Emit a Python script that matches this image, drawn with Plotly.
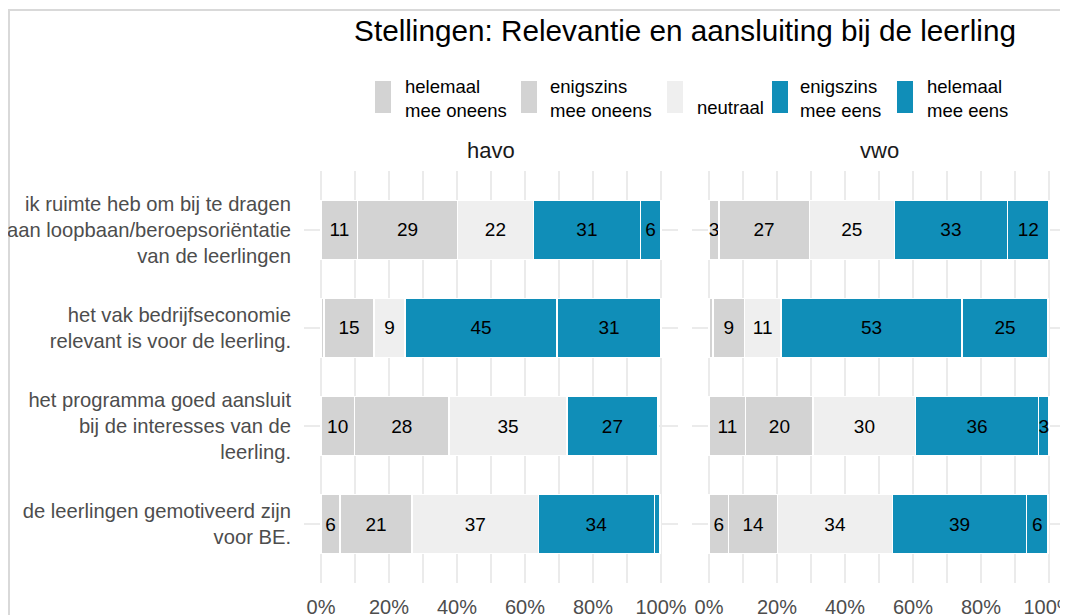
import plotly.graph_objects as go

# ---------------- data ----------------
statements = [
    "ik ruimte heb om bij te dragen<br>aan loopbaan/beroepsoriëntatie<br>van de leerlingen",
    "het vak bedrijfseconomie<br>relevant is voor de leerling.",
    "het programma goed aansluit<br>bij de interesses van de<br>leerling.",
    "de leerlingen gemotiveerd zijn<br>voor BE.",
]
levels = [
    "helemaal<br>mee oneens",
    "enigszins<br>mee oneens",
    "<br>neutraal",
    "enigszins<br>mee eens",
    "helemaal<br>mee eens",
]
level_colors = ["#D3D3D3", "#D3D3D3", "#EFEFEF", "#108EB8", "#108EB8"]
panels = ["havo", "vwo"]

havo_helemaal_oneens = [10.8, 0.9, 9.8, 5.6]
havo_enigszins_oneens = [29.3, 14.7, 27.9, 21.2]
havo_neutraal = [22.4, 9.1, 34.6, 37.1]
havo_enigszins_eens = [31.4, 44.7, 26.8, 34.2]
havo_helemaal_eens = [6.1, 30.6, 0.0, 1.6]

vwo_helemaal_oneens = [2.9, 1.2, 10.8, 5.8]
vwo_enigszins_oneens = [26.6, 9.2, 19.8, 14.4]
vwo_neutraal = [25.0, 10.8, 30.2, 33.8]
vwo_enigszins_eens = [33.3, 53.2, 36.1, 39.4]
vwo_helemaal_eens = [12.2, 25.3, 3.1, 6.3]

x_tick_values = [0, 20, 40, 60, 80, 100]
x_tick_labels = ["0%", "20%", "40%", "60%", "80%", "100%"]
x_minor_values = [10, 30, 50, 70, 90]

panel_data = {
    "havo": [havo_helemaal_oneens, havo_enigszins_oneens, havo_neutraal,
             havo_enigszins_eens, havo_helemaal_eens],
    "vwo": [vwo_helemaal_oneens, vwo_enigszins_oneens, vwo_neutraal,
            vwo_enigszins_eens, vwo_helemaal_eens],
}

# ---------------- figure ----------------
# the page body has an 8px margin, so the figure is offset by 8px
OFF = 8
W, H = 1068 - OFF, 615 - OFF
FONT = "Arial, Liberation Sans, sans-serif"


def px_x(p):
    return (p - OFF) / W


def px_y(p):
    return 1 - (p - OFF) / H


fig = go.Figure()

axis_names = {"havo": ("x", "y"), "vwo": ("x2", "y")}
for panel in panels:
    xa, ya = axis_names[panel]
    for lvl, col, vals in zip(levels, level_colors, panel_data[panel]):
        labels = [str(round(v)) if v >= 2.5 else "" for v in vals]
        fig.add_trace(go.Bar(
            x=vals, y=statements, orientation="h",
            name=lvl.replace("<br>", " ").strip(),
            marker=dict(color=col, line=dict(color="white", width=1.5)),
            width=0.6,
            text=labels, textposition="inside", insidetextanchor="middle",
            textangle=0,
            textfont=dict(family=FONT, size=19, color="black"),
            insidetextfont=dict(family=FONT, size=19, color="black"),
            xaxis=xa, yaxis=ya, showlegend=False,
            hovertemplate="%{y}: %{x}<extra></extra>",
        ))

grid_col = "#EBEBEB"
xaxis_common = dict(
    range=[-5, 105], tickmode="array", tickvals=x_tick_values, ticktext=x_tick_labels,
    showgrid=True, gridcolor=grid_col, gridwidth=2,
    minor=dict(tickvals=x_minor_values, showgrid=True, gridcolor=grid_col, gridwidth=2),
    zeroline=False, showline=False, ticks="",
    tickfont=dict(family=FONT, size=20, color="#4D4D4D"),
    ticklabelstandoff=10, ticklabeloverflow="allow",
    fixedrange=True, automargin=False,
)

fig.update_layout(
    width=W, height=H,
    margin=dict(l=0, r=0, t=0, b=0),
    paper_bgcolor="white", plot_bgcolor="white",
    barmode="stack", bargap=0.4,
    showlegend=False,
    uniformtext=dict(minsize=19, mode="show"),
    xaxis=dict(domain=[px_x(304), px_x(678)], anchor="y", **xaxis_common),
    xaxis2=dict(domain=[px_x(692), px_x(1066)], anchor="y", **xaxis_common),
    yaxis=dict(
        domain=[px_y(583), px_y(171)],
        categoryorder="array", categoryarray=statements,
        range=[3.6, -0.6],
        showgrid=True, gridcolor=grid_col, gridwidth=2,
        zeroline=False, showline=False, ticks="",
        tickfont=dict(family=FONT, size=20.2, color="#4D4D4D"),
        ticklabelstandoff=12, automargin=False, fixedrange=True,
    ),
    title=dict(
        text="Stellingen: Relevantie en aansluiting bij de leerling",
        x=px_x(685), xanchor="center", y=px_y(31), yanchor="middle",
        xref="paper", yref="paper",
        font=dict(family=FONT, size=29.7, color="black"),
    ),
)

# facet strip labels
for panel, cx in zip(panels, [491, 879]):
    fig.add_annotation(
        text=panel, x=px_x(cx), y=px_y(150), xref="paper", yref="paper",
        xanchor="center", yanchor="middle", showarrow=False,
        font=dict(family=FONT, size=22, color="#1A1A1A"),
    )

# legend (drawn manually: tall keys and two-line labels)
key_left = [375, 521, 667, 772, 897]
text_left = [403, 548, 695, 798, 925]
for lvl, col, kx, tx in zip(levels, level_colors, key_left, text_left):
    fig.add_shape(
        type="rect", xref="paper", yref="paper",
        x0=px_x(kx), x1=px_x(kx + 16), y0=px_y(113), y1=px_y(81),
        fillcolor=col, line=dict(width=0),
    )
    if lvl.startswith("<br>"):
        fig.add_annotation(
            text=lvl.replace("<br>", ""), x=px_x(tx), y=px_y(108),
            xref="paper", yref="paper", xanchor="left", yanchor="middle",
            showarrow=False, align="left",
            font=dict(family=FONT, size=18.5, color="black"),
        )
    else:
        fig.add_annotation(
            text=lvl, x=px_x(tx), y=px_y(98),
            xref="paper", yref="paper", xanchor="left", yanchor="middle",
            showarrow=False, align="left",
            font=dict(family=FONT, size=18.5, color="black"),
        )

# outer frame
fig.add_shape(
    type="rect", xref="paper", yref="paper",
    x0=px_x(9), x1=px_x(1066), y0=px_y(640), y1=px_y(10),
    line=dict(color="#D9D9D9", width=2), fillcolor="rgba(0,0,0,0)", layer="below",
)

fig.write_html("out.html")
